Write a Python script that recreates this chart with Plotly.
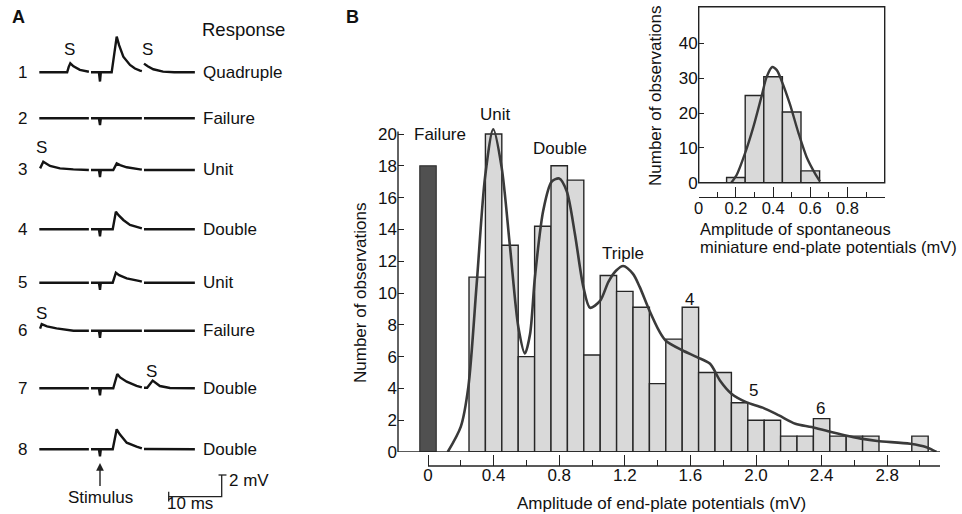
import plotly.graph_objects as go

W, H = 962, 514

# ---------------- DATA ----------------
# Panel B: histogram of end-plate potential amplitudes (mV)
epp_bin_centers = [0.3, 0.4, 0.5, 0.6, 0.7, 0.8, 0.9, 1.0, 1.1, 1.2, 1.3, 1.4, 1.5, 1.6,
                   1.7, 1.8, 1.9, 2.0, 2.1, 2.2, 2.3, 2.4, 2.5, 2.6, 2.7, 2.8, 2.9, 3.0]
epp_counts = [11, 20, 13, 6, 14.2, 18, 17.1, 6.1, 11.1, 10.1, 9.1, 4.3, 7.1, 9.1,
              5, 5, 3.1, 2, 2, 1, 1, 2.1, 1, 1, 1, 0, 0, 1]
failure_x = [0.0]
failure_counts = [18]

# Fitted curve
fit_x = [0.12, 0.2, 0.246, 0.297, 0.348, 0.398, 0.449, 0.5, 0.551, 0.591, 0.622, 0.652,
         0.703, 0.754, 0.8, 0.846, 0.896, 0.947, 0.988, 1.049, 1.1, 1.146, 1.19, 1.25,
         1.29, 1.35, 1.41, 1.45, 1.55, 1.64, 1.72, 1.78, 1.85, 1.94, 2.04, 2.14, 2.24,
         2.34, 2.44, 2.54, 2.64, 2.74, 2.94, 3.04, 3.1]
fit_y = [0, 1.6, 4.1, 10.6, 17.3, 20.3, 17.9, 12.9, 7.85, 6.2, 7.4, 11, 15.2, 17, 17.2,
         16.4, 13.7, 10.4, 9.07, 9.5, 10.7, 11.4, 11.7, 11.2, 10.4, 8.9, 7.6, 7.0, 6.4,
         5.97, 5.55, 4.5, 3.67, 3.14, 2.79, 2.3, 1.78, 1.57, 1.3, 1.05, 0.84, 0.69, 0.52,
         0.3, 0]

# Inset: spontaneous miniature end-plate potentials
mepp_bin_centers = [0.2, 0.3, 0.4, 0.5, 0.6]
mepp_counts = [1.5, 25, 30.4, 20.3, 3.4]
mepp_fit_x = [0.175, 0.204, 0.249, 0.294, 0.339, 0.365, 0.395, 0.42, 0.446, 0.49, 0.535,
              0.58, 0.625, 0.652]
mepp_fit_y = [0, 2.2, 8.4, 16, 25, 30.3, 33.2, 32.3, 29.2, 22.6, 14.5, 7.4, 2.7, 0.4]

main_xtick_vals = [0, 0.4, 0.8, 1.2, 1.6, 2.0, 2.4, 2.8]
main_xtick_text = ["0", "0.4", "0.8", "1.2", "1.6", "2.0", "2.4", "2.8"]
main_xminor_vals = [0.2, 0.6, 1.0, 1.4, 1.8, 2.2, 2.6, 3.0]
main_ytick_vals = [0, 2, 4, 6, 8, 10, 12, 14, 16, 18, 20]
inset_xtick_vals = [0, 0.2, 0.4, 0.6, 0.8]
inset_xtick_text = ["0", "0.2", "0.4", "0.6", "0.8"]
inset_xminor_vals = [0.1, 0.3, 0.5, 0.7, 0.9]
inset_ytick_vals = [0, 10, 20, 30, 40]

peak_labels = ["Failure", "Unit", "Double", "Triple", "4", "5", "6"]

# Panel A: eight sweeps (time in ms relative to stimulus, voltage in mV)
sweep_numbers = ["1", "2", "3", "4", "5", "6", "7", "8"]
sweep_responses = ["Quadruple", "Failure", "Unit", "Double", "Unit", "Failure", "Double", "Double"]
sweep1_t = [-11.45, -6.2, -5.9, -5.6, -5.0, -3.8, -2.1, None, -1.7, -0.2, 0.0, 0.15, 2.2, 3.15,
            3.6, 4.4, 5.66, 6.6, 7.55, 7.9, None, 8.3, 9.0, 10.06, 11.9, 14.0, 17.9]
sweep1_mv = [0, 0, 0.5, 0.83, 0.55, 0.22, 0.05, None, 0, 0, -0.85, 0, 0, 3.29,
             2.5, 1.44, 0.68, 0.35, 0.15, 0.1, None, 0.8, 0.55, 0.28, 0.06, 0, 0]
sweep2_t = [-11.45, -2.1, None, -1.7, -0.2, 0.0, 0.15, 7.9, None, 8.3, 17.9]
sweep2_mv = [0, 0, None, 0, 0, -0.62, 0, 0, None, 0, 0]
sweep3_t = [-11.3, -10.7, -9.43, -7.55, -5.04, -2.1, None, -1.7, -0.2, 0.0, 0.15, 2.5, 3.15,
            3.8, 5.04, 7.55, 7.9, None, 8.3, 17.9]
sweep3_mv = [0.15, 0.77, 0.37, 0.15, 0.06, 0, None, 0, 0, -0.65, 0, 0, 0.61,
             0.45, 0.25, 0.06, 0.03, None, 0, 0]
sweep4_t = [-11.45, -2.1, None, -1.7, -0.2, 0.0, 0.15, 2.4, 3.0, 3.5, 4.4, 5.66, 7.55, 7.9,
            None, 8.3, 17.9]
sweep4_mv = [0, 0, None, 0, 0, -0.65, 0, 0, 1.63, 1.3, 0.86, 0.4, 0.12, 0.08, None, 0, 0]
sweep5_t = [-11.45, -2.1, None, -1.7, -0.2, 0.0, 0.15, 2.4, 3.0, 3.6, 5.04, 7.55, 7.9,
            None, 8.3, 17.9]
sweep5_mv = [0, 0, None, 0, 0, -0.65, 0, 0, 0.92, 0.7, 0.4, 0.15, 0.1, None, 0, 0]
sweep6_t = [-11.3, -11.0, -10.0, -8.2, -5.0, -2.1, None, -1.7, -0.2, 0.0, 0.15, 7.9,
            None, 8.3, 17.9]
sweep6_mv = [0.2, 0.61, 0.4, 0.21, 0, 0, None, 0, 0, -0.65, 0, 0, None, 0, 0]
sweep7_t = [-11.45, -2.1, None, -1.7, -0.2, 0.0, 0.15, 2.5, 3.26, 3.8, 5.04, 6.9, 7.9,
            None, 8.3, 8.9, 9.94, 10.5, 11.3, 13.2, 17.9]
sweep7_mv = [0, 0, None, 0, 0, -0.65, 0, 0, 1.32, 1.0, 0.61, 0.22, 0.08,
             None, 0.05, 0.05, 0.71, 0.5, 0.21, 0.03, 0]
sweep8_t = [-11.45, -2.1, None, -1.7, -0.2, 0.0, 0.15, 2.4, 3.15, 3.7, 5.04, 6.9, 7.9,
            None, 8.3, 17.9]
sweep8_mv = [0, 0, None, 0, 0, -0.65, 0, 0, 1.84, 1.4, 0.61, 0.25, 0.08, None, 0.03, 0]

scale_bar_ms = 10
scale_bar_mv = 2


# ---------------- LAYOUT HELPERS ----------------
def px(x):
    return x / W


def py(y):
    return 1 - y / H


FONT = "Liberation Sans, Arial, Helvetica, sans-serif"
FS = 17
TXT = "#111111"
LINE = "#222222"

PX_PER_MS = 5.3
PX_PER_MV = 10.85
A_X0, A_X1 = 30, 240
STIM_PX = 100
row_px = [72.3, 118.3, 170, 229.3, 282.7, 330.7, 388.3, 449.3]
row_mv = [(H - r) / PX_PER_MV for r in row_px]

fig = go.Figure()

# ---- Panel B main histogram ----
fig.add_trace(go.Bar(x=failure_x, y=failure_counts, width=0.1,
                     marker=dict(color="#505050", line=dict(color="#333333", width=1.2)),
                     xaxis="x", yaxis="y", hoverinfo="skip"))
fig.add_trace(go.Bar(x=epp_bin_centers, y=epp_counts, width=0.1,
                     marker=dict(color="#d9d9d9", line=dict(color="#262626", width=1.4)),
                     xaxis="x", yaxis="y", hoverinfo="skip"))
fig.add_trace(go.Scatter(x=fit_x, y=fit_y, mode="lines",
                         line=dict(color="#3a3a3a", width=2.6, shape="spline", smoothing=0.8),
                         xaxis="x", yaxis="y", hoverinfo="skip"))

# ---- Inset ----
fig.add_trace(go.Bar(x=mepp_bin_centers, y=mepp_counts, width=0.1,
                     marker=dict(color="#d9d9d9", line=dict(color="#262626", width=1.4)),
                     xaxis="x2", yaxis="y2", hoverinfo="skip"))
fig.add_trace(go.Scatter(x=mepp_fit_x, y=mepp_fit_y, mode="lines",
                         line=dict(color="#3a3a3a", width=2.4, shape="spline", smoothing=0.8),
                         xaxis="x2", yaxis="y2", hoverinfo="skip"))

# ---- Panel A sweeps ----
sweeps = [(sweep1_t, sweep1_mv), (sweep2_t, sweep2_mv), (sweep3_t, sweep3_mv),
          (sweep4_t, sweep4_mv), (sweep5_t, sweep5_mv), (sweep6_t, sweep6_mv),
          (sweep7_t, sweep7_mv), (sweep8_t, sweep8_mv)]
for (t, v), base in zip(sweeps, row_mv):
    yy = [None if val is None else base + val for val in v]
    fig.add_trace(go.Scatter(x=t, y=yy, mode="lines",
                             line=dict(color="#141414", width=2.4),
                             xaxis="x3", yaxis="y3", hoverinfo="skip",
                             connectgaps=False))

# Scale bars (in data units of panel A)
sb_t1 = (221.7 - STIM_PX) / PX_PER_MS
sb_t0 = sb_t1 - scale_bar_ms
sb_v0 = (H - 496.7) / PX_PER_MV
sb_v1 = sb_v0 + scale_bar_mv
fig.add_trace(go.Scatter(x=[sb_t0, sb_t1, sb_t1], y=[sb_v0, sb_v0, sb_v1], mode="lines",
                         line=dict(color="#222", width=1.3), xaxis="x3", yaxis="y3",
                         hoverinfo="skip"))
fig.add_trace(go.Scatter(x=[sb_t0, sb_t0, None, sb_t1 - 0.6, sb_t1 + 0.9],
                         y=[sb_v0 - 0.45, sb_v0 + 0.45, None, sb_v1, sb_v1], mode="lines",
                         line=dict(color="#222", width=1.3), xaxis="x3", yaxis="y3",
                         hoverinfo="skip"))

# ---------------- AXES ----------------
main_y_top = 20.4
main_px_per_unit = 15.9
main_y_top_px = 452 - main_y_top * main_px_per_unit

axis_font = dict(family=FONT, size=FS, color=TXT)

fig.update_layout(
    template="none",
    width=W, height=H, autosize=False,
    margin=dict(l=0, r=0, t=0, b=0, pad=0, autoexpand=False),
    paper_bgcolor="white", plot_bgcolor="rgba(0,0,0,0)",
    showlegend=False, barmode="overlay",
    font=axis_font,
    xaxis=dict(domain=[px(398), px(940)], range=[-0.183, 3.122], anchor="free",
               position=py(466), automargin=False, showline=False, showgrid=False,
               zeroline=False, ticklabelstandoff=-3,
               tickvals=main_xtick_vals, ticktext=main_xtick_text, ticks="inside",
               ticklen=11, tickwidth=1.3, tickcolor=LINE, tickfont=axis_font,
               minor=dict(tickvals=main_xminor_vals, ticks="inside", ticklen=6,
                          tickwidth=1.3, tickcolor=LINE, showgrid=False)),
    yaxis=dict(domain=[py(452), py(main_y_top_px)], range=[0, main_y_top], anchor="x",
               automargin=False, showline=False, showgrid=False, zeroline=False,
               tickvals=main_ytick_vals, ticks="inside", ticklen=6, tickwidth=1.3,
               tickcolor=LINE, tickfont=axis_font),
    xaxis2=dict(domain=[px(698.7), px(884.7)], range=[0, 1.0], anchor="free",
                position=py(196.7), automargin=False, showline=True, linecolor=LINE,
                linewidth=1.3, showgrid=False, zeroline=False, ticklabelstandoff=-4,
                tickvals=inset_xtick_vals, ticktext=inset_xtick_text, ticks="inside",
                ticklen=10, tickwidth=1.3, tickcolor=LINE,
                tickfont=dict(family=FONT, size=16.5, color=TXT),
                minor=dict(tickvals=inset_xminor_vals, ticks="inside", ticklen=5,
                           tickwidth=1.3, tickcolor=LINE, showgrid=False)),
    yaxis2=dict(domain=[py(182.7), py(6.7)], range=[0, 50.5], anchor="x2",
                automargin=False, showline=False, showgrid=False, zeroline=False,
                tickvals=inset_ytick_vals, ticks="inside", ticklen=5, tickwidth=1.3,
                tickcolor=LINE, tickfont=axis_font),
    xaxis3=dict(domain=[px(A_X0), px(A_X1)],
                range=[(A_X0 - STIM_PX) / PX_PER_MS, (A_X1 - STIM_PX) / PX_PER_MS],
                anchor="y3", visible=False, automargin=False),
    yaxis3=dict(domain=[0, 1], range=[0, H / PX_PER_MV], anchor="x3", visible=False,
                automargin=False),
)

shapes = [
    # main y axis line
    dict(type="line", xref="x domain", yref="y", x0=0, x1=0, y0=0, y1=20.15,
         line=dict(color=LINE, width=1.4)),
    # main baseline
    dict(type="line", xref="x domain", yref="y", x0=0, x1=1, y0=0, y1=0,
         line=dict(color=LINE, width=1.4)),
    # main separate x axis line
    dict(type="line", xref="x", yref="paper", x0=0, x1=3.122, y0=py(466), y1=py(466),
         line=dict(color=LINE, width=1.4)),
    # inset frame
    dict(type="rect", xref="x2 domain", yref="y2 domain", x0=0, x1=1, y0=0, y1=1,
         line=dict(color=LINE, width=1.4)),
]
fig.update_layout(shapes=shapes)

ann = []


def text(x, y, s, size=FS, xanchor="center", yanchor="middle", angle=0, bold=False):
    ann.append(dict(x=px(x), y=py(y), xref="paper", yref="paper",
                    text=("<b>%s</b>" % s) if bold else s, showarrow=False,
                    xanchor=xanchor, yanchor=yanchor, textangle=angle,
                    font=dict(family=FONT, size=size, color=TXT)))


# Panel letters
text(18, 17.5, "A", size=18, bold=True)
text(352.5, 16.7, "B", size=18, bold=True)

# Panel A labels
text(243.7, 29.3, "Response", size=18.5)
for num, resp, r in zip(sweep_numbers, sweep_responses, row_px):
    text(22, r, num)
    text(201, r, resp, xanchor="left")
for sx, sy in [(69.3, 50), (147.3, 50), (41.7, 147.3), (41.7, 313.3), (151.7, 371.7)]:
    text(sx, sy, "S")
text(227, 480, "2 mV", xanchor="left")
text(190, 503, "10 ms")
ann.append(dict(x=px(STIM_PX), y=py(463), xref="paper", yref="paper", text="Stimulus",
                showarrow=True, arrowhead=2, arrowsize=1.1, arrowwidth=1.4,
                arrowcolor="#222", ax=0, ay=34, standoff=0,
                font=dict(family=FONT, size=FS, color=TXT)))

# Panel B peak labels (pixel positions)
peak_pos_px = [(440, 134.3), (495.3, 115), (560, 148.3), (622.5, 253.3),
               (689, 299), (753.3, 390), (820, 408.3)]
for lab, (lx, ly) in zip(peak_labels, peak_pos_px):
    text(lx, ly, lab)

text(360, 293, "Number of observations", angle=-90)
text(661, 503, "Amplitude of end-plate potentials (mV)")
text(655, 96, "Number of observations", angle=-90)
text(698, 229.5, "Amplitude of spontaneous", xanchor="left", size=16.5)
text(698, 246.5, "miniature end-plate potentials (mV)", xanchor="left", size=16.5)

fig.update_layout(annotations=ann)

fig.write_html("out.html", config={"displayModeBar": False},
               post_script="document.body.style.margin='0';"
                           "document.body.style.padding='0';"
                           "document.body.style.overflow='hidden';"
                           "document.documentElement.style.overflow='hidden';")
